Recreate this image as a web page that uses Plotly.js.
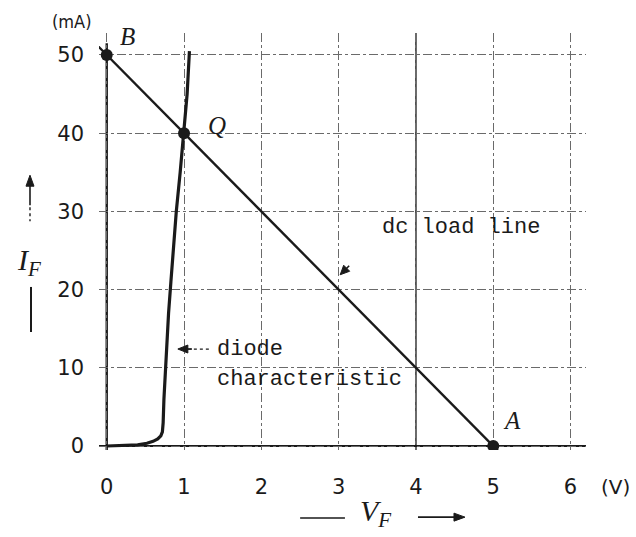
<!DOCTYPE html>
<html>
<head>
<meta charset="utf-8">
<script src="https://cdn.plot.ly/plotly-3.0.1.min.js"></script>
<style>
  html, body { margin: 0; padding: 0; background: #fff; }
  #chart { width: 636px; height: 537px; }
</style>
</head>
<body>
<div id="chart"></div>
<script>
// Diode forward characteristic (V in volts, I in mA)
const diodeV = [0.00, 0.20, 0.40, 0.52, 0.60, 0.66, 0.70, 0.72, 0.73, 0.74, 0.76, 0.78, 0.80, 0.83, 0.86, 0.90, 0.95, 1.00, 1.04, 1.07];
const diodeI = [0.0, 0.05, 0.15, 0.35, 0.60, 0.90, 1.30, 1.80, 3.0, 6.0, 10.0, 13.5, 17.0, 21.0, 25.0, 30.0, 35.0, 40.0, 45.0, 50.5];

// dc load line, drawn slightly past its end points
const loadV = [-0.22, 5.17];
const loadI = [52.2, -1.7];

// Marked points: B (cut-off current), Q (operating point), A (open-circuit voltage)
const pointV = [0, 1, 5];
const pointI = [50, 40, 0];
const pointNames = ['B', 'Q', 'A'];

// Axis ticks
const xTicks = [0, 1, 2, 3, 4, 5, 6];
const yTicks = [0, 10, 20, 30, 40, 50];

const ink = '#1a1a1a';
const gridInk = '#6a6a6a';
const mono = 'Liberation Mono, Courier New, monospace';
const serif = 'Liberation Serif, DejaVu Serif, serif';

const traces = [
  {
    x: diodeV, y: diodeI, type: 'scatter', mode: 'lines',
    line: { color: ink, width: 3.2 },
    hoverinfo: 'skip', showlegend: false
  },
  {
    x: loadV, y: loadI, type: 'scatter', mode: 'lines',
    line: { color: ink, width: 2.4 },
    hoverinfo: 'skip', showlegend: false
  },
  {
    x: pointV, y: pointI, type: 'scatter', mode: 'markers',
    marker: { color: ink, size: 12, symbol: 'circle' },
    hoverinfo: 'skip', showlegend: false
  }
];

// Label offsets for B, Q, A (in data units)
const labelDx = [0.27, 0.42, 0.24];
const labelDy = [2.3, 1.0, 3.3];

const annotations = pointNames.map((name, i) => ({
  x: pointV[i] + labelDx[i], y: pointI[i] + labelDy[i],
  xref: 'x', yref: 'y', xanchor: 'center', yanchor: 'middle',
  text: '<i>' + name + '</i>', showarrow: false,
  font: { family: serif, size: 25, color: ink }
}));

function paperText(x, y, text, font) {
  return { x: x, y: y, xref: 'paper', yref: 'paper', xanchor: 'center', yanchor: 'middle',
           text: text, showarrow: false, font: font };
}

annotations.push(
  // curve labels
  { x: 4.58, y: 27.9, xref: 'x', yref: 'y', xanchor: 'center', yanchor: 'middle',
    text: 'dc load line', showarrow: false,
    font: { family: mono, size: 22, color: ink } },
  { x: 1.40, y: 12.4, xref: 'x', yref: 'y', xanchor: 'left', yanchor: 'middle',
    text: 'diode', showarrow: false,
    font: { family: mono, size: 22, color: ink } },
  { x: 1.40, y: 8.5, xref: 'x', yref: 'y', xanchor: 'left', yanchor: 'middle',
    text: 'characteristic', showarrow: false,
    font: { family: mono, size: 22, color: ink } },
  // units
  paperText(-0.055, 1.027, '(mA)',
    { family: 'DejaVu Sans Condensed, DejaVu Sans, sans-serif', size: 18, color: ink }),
  paperText(1.06, -0.089, '(V)',
    { family: 'DejaVu Sans, sans-serif', size: 20, color: ink }),
  // axis titles
  paperText(-0.1437, 0.452, '<i>I</i><sub><i>F</i></sub>',
    { family: serif, size: 30, color: ink }),
  paperText(0.567, -0.151, '<i>V</i><sub><i>F</i></sub>',
    { family: serif, size: 30, color: ink })
);

// Small filled arrowhead; path in pixels around an anchor point
function head(xref, yref, x, y, path) {
  return { type: 'path', xref: xref, yref: yref, xsizemode: 'pixel', ysizemode: 'pixel',
           xanchor: x, yanchor: y, path: path,
           fillcolor: ink, line: { color: ink, width: 1 } };
}
function stroke(xref, yref, x, y, path, width, dash) {
  return { type: 'path', xref: xref, yref: yref, xsizemode: 'pixel', ysizemode: 'pixel',
           xanchor: x, yanchor: y, path: path,
           line: { color: ink, width: width, dash: dash || 'solid' } };
}

const shapes = [
  // axes drawn as solid lines
  { type: 'line', xref: 'x', yref: 'y', x0: 0, x1: 0, y0: -0.5, y1: 51.5,
    line: { color: ink, width: 2.4 }, layer: 'below' },
  { type: 'line', xref: 'x', yref: 'y', x0: -0.1, x1: 6.2, y0: 0, y1: 0,
    line: { color: ink, width: 2.2 }, layer: 'below' },
  // solid grid line at 4 V
  { type: 'line', xref: 'x', yref: 'paper', x0: 4, x1: 4, y0: 0, y1: 1,
    line: { color: ink, width: 1.4 }, layer: 'below' },

  // pointer to the diode curve
  head('x', 'y', 0.92, 12.4, 'M0,0 L10,4 L10,-4 Z'),
  stroke('x', 'y', 0.92, 12.4, 'M6,0 L14,0', 1.8),
  stroke('x', 'y', 0.92, 12.4, 'M16,0 L34,0', 1.3, 'dot'),

  // pointer to the load line
  head('x', 'y', 3.02, 21.9, 'M0,0 L3.5,9.5 L9.5,3.5 Z'),
  stroke('x', 'y', 3.02, 21.9, 'M4,4 L9,9', 1.6),

  // y axis title: arrow above I_F, bar below
  head('paper', 'paper', -0.1417, 0.659, 'M0,0 L-4,-11 L4,-11 Z'),
  stroke('paper', 'paper', -0.1417, 0.659, 'M0,-8 L0,-30', 1.6),
  stroke('paper', 'paper', -0.1417, 0.659, 'M0,-32 L0,-46', 1.4, 'dot'),
  { type: 'line', xref: 'paper', yref: 'paper', x0: -0.1396, x1: -0.1396, y0: 0.391, y1: 0.283,
    line: { color: ink, width: 2 } },

  // x axis title: dash before V_F, arrow after it
  { type: 'line', xref: 'paper', yref: 'paper', x0: 0.413, x1: 0.505, y0: -0.163, y1: -0.163,
    line: { color: ink, width: 1.6 } },
  head('paper', 'paper', 0.7515, -0.161, 'M0,0 L-11,4 L-11,-4 Z'),
  stroke('paper', 'paper', 0.7515, -0.161, 'M-8,0 L-47,0', 1.6)
];

const layout = {
  width: 636, height: 537,
  margin: { l: 99, r: 50, t: 33, b: 87 },
  paper_bgcolor: '#ffffff', plot_bgcolor: '#ffffff',
  showlegend: false,
  xaxis: {
    range: [-0.1, 6.2], tickvals: xTicks, ticktext: xTicks.map(String),
    showgrid: true, gridcolor: gridInk, gridwidth: 1, griddash: 'dashdot',
    zeroline: false, showline: false, ticks: '', ticklabelstandoff: 22,
    tickfont: { family: 'DejaVu Sans, sans-serif', size: 21, color: ink },
    fixedrange: true
  },
  yaxis: {
    range: [-0.51, 52.81], tickvals: yTicks, ticktext: yTicks.map(String),
    showgrid: true, gridcolor: gridInk, gridwidth: 1, griddash: 'dashdot',
    zeroline: false, showline: false, ticks: '', ticklabelstandoff: 14,
    tickfont: { family: 'DejaVu Sans, sans-serif', size: 21, color: ink },
    fixedrange: true
  },
  annotations: annotations,
  shapes: shapes
};

Plotly.newPlot('chart', traces, layout, { displayModeBar: false, staticPlot: true });
</script>
</body>
</html>
